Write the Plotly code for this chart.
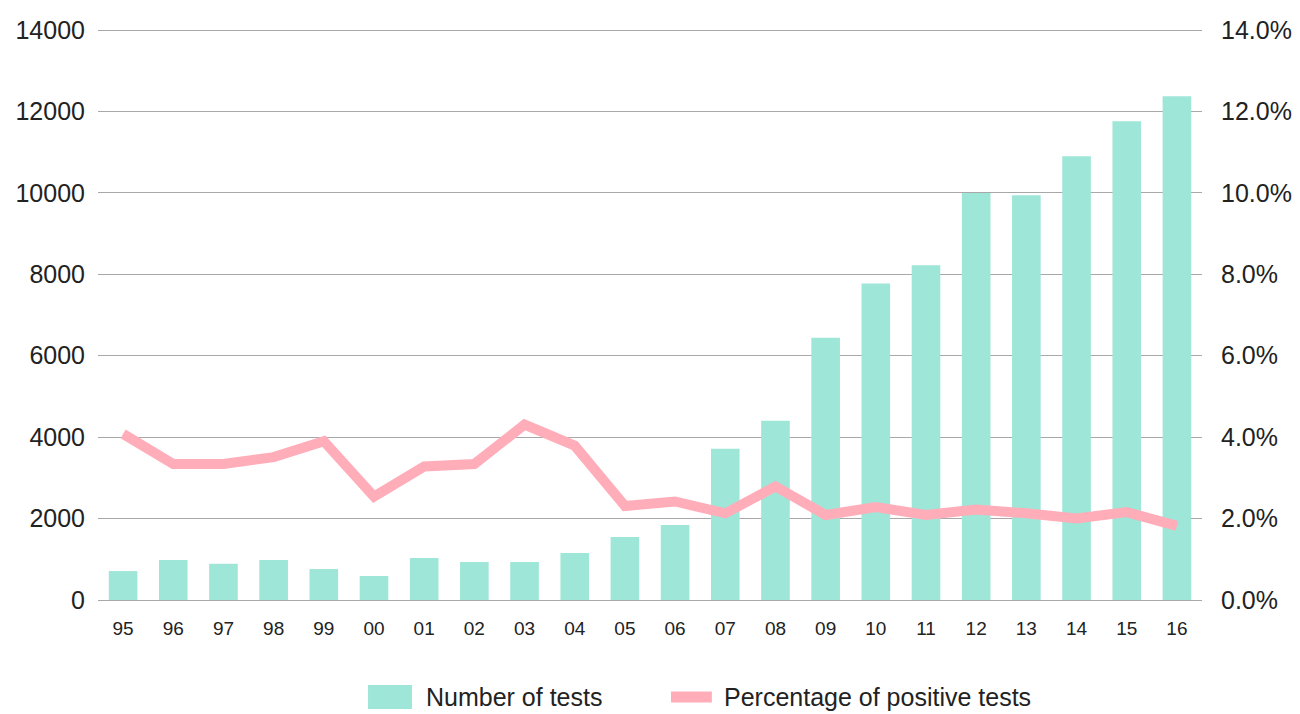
import plotly.graph_objects as go

years = ["95", "96", "97", "98", "99", "00", "01", "02", "03", "04", "05",
         "06", "07", "08", "09", "10", "11", "12", "13", "14", "15", "16"]
num_tests = [710, 980, 890, 980, 760, 590, 1030, 935, 935, 1155, 1550,
             1845, 3715, 4405, 6445, 7775, 8220, 10000, 9940, 10900, 11760, 12375]
pct_positive = [4.08, 3.34, 3.34, 3.51, 3.90, 2.54, 3.28, 3.34, 4.31, 3.79, 2.31,
                2.42, 2.13, 2.79, 2.09, 2.28, 2.09, 2.22, 2.13, 2.00, 2.16, 1.82]

left_ticks = [0, 2000, 4000, 6000, 8000, 10000, 12000, 14000]
right_ticks = [0, 2, 4, 6, 8, 10, 12, 14]
bar_name = "Number of tests"
line_name = "Percentage of positive tests"

FONT = "Liberation Sans, Arial, sans-serif"
TXT = "#222222"
BAR_C = "#9EE6D7"
LINE_C = "#FFADB9"

fig = go.Figure()
fig.add_trace(go.Bar(
    x=years, y=num_tests, name=bar_name,
    marker=dict(color=BAR_C, line=dict(width=0)),
    yaxis="y",
))
fig.add_trace(go.Scatter(
    x=years, y=pct_positive, name=line_name,
    mode="lines", line=dict(color=LINE_C, width=10),
    yaxis="y2",
))

# custom legend at the bottom
LEG_Y = -0.169
fig.add_shape(type="rect", xref="paper", yref="paper",
              x0=0.2446, x1=0.2844, y0=-0.1899, y1=-0.1481,
              fillcolor=BAR_C, line=dict(width=0))
fig.add_shape(type="line", xref="paper", yref="paper",
              x0=0.519, x1=0.556, y0=LEG_Y, y1=LEG_Y,
              line=dict(color=LINE_C, width=11))
fig.add_annotation(text=bar_name, xref="paper", yref="paper",
                   x=0.2953, y=LEG_Y, xanchor="left", yanchor="middle",
                   showarrow=False, font=dict(size=25, color=TXT, family=FONT))
fig.add_annotation(text=line_name, xref="paper", yref="paper",
                   x=0.5652, y=LEG_Y, xanchor="left", yanchor="middle",
                   showarrow=False, font=dict(size=25, color=TXT, family=FONT))

fig.update_layout(
    width=1300, height=714,
    margin=dict(l=90, r=106, t=18, b=122, autoexpand=False),
    paper_bgcolor="white", plot_bgcolor="white",
    font=dict(family=FONT, color=TXT),
    bargap=0.43,
    showlegend=False,
    xaxis=dict(
        type="category", showgrid=False, zeroline=False, showline=False,
        ticks="", tickfont=dict(size=19, color=TXT),
        ticklabelstandoff=15,
    ),
    yaxis=dict(
        range=[0, 14100], tickvals=left_ticks,
        ticktext=[str(v) for v in left_ticks],
        showgrid=True, gridcolor="#A8A8A8", gridwidth=1,
        zeroline=True, zerolinecolor="#A8A8A8", zerolinewidth=1,
        showline=False, ticks="", tickfont=dict(size=25, color=TXT),
        ticklabelstandoff=12,
    ),
    yaxis2=dict(
        range=[0, 14.1], tickvals=right_ticks,
        ticktext=[f"{v:.1f}%" for v in right_ticks],
        overlaying="y", side="right", showgrid=False, zeroline=False,
        showline=False, ticks="", tickfont=dict(size=25, color=TXT),
        ticklabelstandoff=18,
    ),
)

fig.write_html("out.html")
